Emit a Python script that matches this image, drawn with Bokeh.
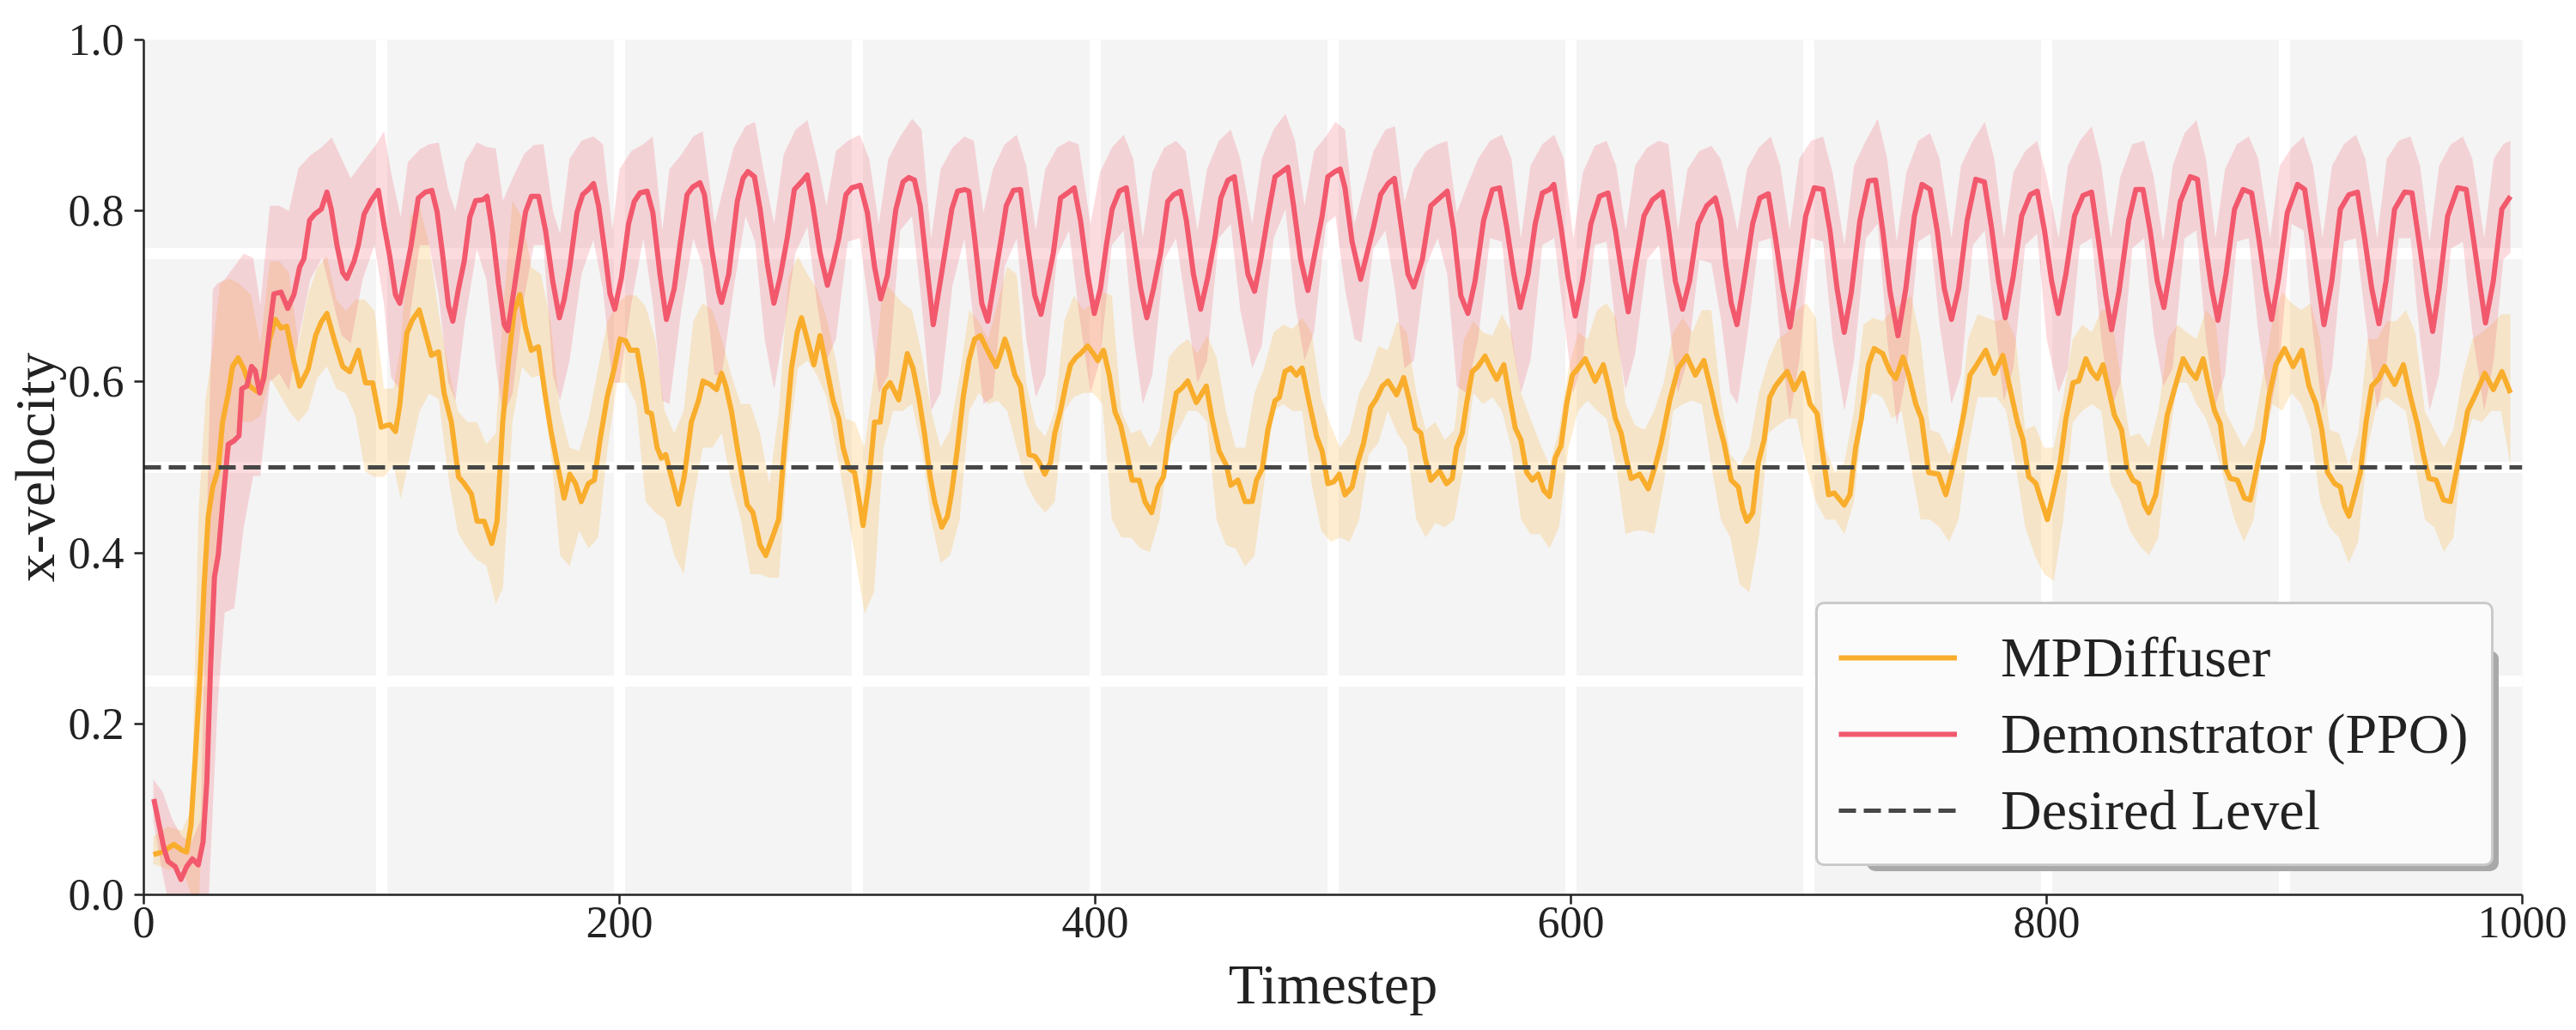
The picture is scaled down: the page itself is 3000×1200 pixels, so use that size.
from bokeh.plotting import figure
from bokeh.models import Range1d, FixedTicker, Legend, LegendItem
from bokeh.core.properties import value
from bokeh.embed import file_html
from bokeh.resources import INLINE

# ---------------- data ----------------
X_RANGE = (0, 1000)
Y_RANGE = (0, 1)
X_TICKS = [0, 200, 400, 600, 800, 1000]
Y_TICKS = [0.0, 0.2, 0.4, 0.6, 0.8, 1.0]
Y_TICK_LABELS = ["0.0", "0.2", "0.4", "0.6", "0.8", "1.0"]
X_GRID = [0, 100, 200, 300, 400, 500, 600, 700, 800, 900, 1000]
Y_GRID = [0, 0.25, 0.5, 0.75, 1.0]
DESIRED_LEVEL = 0.5
LABELS = ["MPDiffuser", "Demonstrator (PPO)", "Desired Level"]

# Demonstrator (PPO) mean: (timestep, x-velocity)
PPO_MEAN = [
    (4.2, 0.112), (8.4, 0.055), (10.2, 0.039), (13.2, 0.033), (15.6, 0.018), (18.0, 0.033),
    (20.4, 0.042), (22.9, 0.035), (24.9, 0.062), (26.5, 0.133), (28.0, 0.262), (29.7, 0.372),
    (31.3, 0.398), (33.1, 0.456), (35.5, 0.527), (37.9, 0.531), (40.0, 0.537), (41.2, 0.592),
    (43.3, 0.595), (45.3, 0.618), (46.9, 0.613), (48.7, 0.587), (50.5, 0.605), (52.9, 0.663),
    (54.7, 0.703), (57.7, 0.705), (60.5, 0.686), (63.1, 0.702), (65.5, 0.734), (67.3, 0.744),
    (69.7, 0.789), (71.8, 0.796), (74.6, 0.802), (77.0, 0.822), (78.8, 0.802), (81.2, 0.760),
    (83.6, 0.728), (85.4, 0.721), (88.4, 0.741), (90.2, 0.760), (92.6, 0.796), (95.6, 0.812),
    (98.6, 0.824), (101.0, 0.783), (103.4, 0.747), (105.8, 0.702), (107.6, 0.692), (110.6, 0.734),
    (112.4, 0.760), (115.4, 0.815), (118.4, 0.822), (121.1, 0.824), (123.3, 0.799), (125.7, 0.747),
    (128.1, 0.689), (129.9, 0.671), (132.3, 0.709), (134.7, 0.741), (137.1, 0.793), (139.5, 0.812),
    (142.5, 0.813), (144.3, 0.817), (146.7, 0.773), (149.1, 0.715), (151.5, 0.667), (153.0, 0.660),
    (155.7, 0.709), (158.1, 0.754), (160.5, 0.799), (162.9, 0.817), (166.0, 0.817), (168.9, 0.777),
    (171.9, 0.718), (174.7, 0.675), (176.7, 0.696), (179.1, 0.735), (182.1, 0.798), (184.5, 0.819),
    (186.9, 0.825), (189.1, 0.832), (191.2, 0.806), (193.9, 0.751), (196.0, 0.703), (198.0, 0.685),
    (200.8, 0.722), (203.8, 0.785), (206.2, 0.811), (208.6, 0.821), (211.6, 0.823), (214.0, 0.798),
    (217.0, 0.726), (219.7, 0.673), (223.0, 0.709), (225.4, 0.760), (228.4, 0.819), (230.8, 0.828),
    (233.8, 0.833), (235.7, 0.819), (238.7, 0.756), (241.7, 0.705), (242.9, 0.693), (245.9, 0.726),
    (249.5, 0.811), (251.9, 0.838), (254.0, 0.846), (256.7, 0.840), (259.1, 0.802), (262.1, 0.739),
    (264.9, 0.692), (267.5, 0.722), (270.5, 0.768), (273.5, 0.825), (276.5, 0.834), (278.9, 0.842),
    (281.3, 0.806), (284.3, 0.751), (287.4, 0.713), (289.8, 0.739), (292.2, 0.768), (295.2, 0.819),
    (297.6, 0.827), (301.2, 0.830), (304.2, 0.798), (307.2, 0.735), (309.8, 0.697), (312.6, 0.724),
    (316.2, 0.802), (319.2, 0.834), (321.6, 0.839), (324.0, 0.836), (326.4, 0.806), (329.4, 0.730),
    (331.9, 0.667), (334.9, 0.718), (337.3, 0.760), (339.7, 0.802), (342.1, 0.823), (345.1, 0.825),
    (346.9, 0.823), (349.3, 0.768), (352.3, 0.692), (354.8, 0.671), (357.8, 0.722), (360.8, 0.773),
    (362.6, 0.806), (365.6, 0.824), (368.6, 0.825), (371.6, 0.760), (374.6, 0.701), (377.2, 0.679),
    (379.4, 0.709), (382.4, 0.751), (385.4, 0.815), (388.4, 0.821), (391.2, 0.827), (393.8, 0.789),
    (396.8, 0.726), (399.6, 0.680), (402.2, 0.709), (404.7, 0.760), (407.1, 0.802), (410.1, 0.823),
    (413.1, 0.827), (416.1, 0.768), (419.1, 0.709), (421.7, 0.675), (424.5, 0.709), (427.5, 0.751),
    (430.5, 0.811), (433.0, 0.819), (435.9, 0.823), (438.3, 0.789), (441.3, 0.726), (444.3, 0.685),
    (447.3, 0.722), (450.3, 0.768), (452.8, 0.815), (455.8, 0.836), (458.5, 0.840), (461.2, 0.785),
    (464.2, 0.726), (467.0, 0.706), (469.6, 0.743), (472.6, 0.794), (475.6, 0.840), (478.6, 0.846),
    (481.0, 0.851), (483.4, 0.806), (486.4, 0.743), (489.4, 0.707), (492.4, 0.751), (495.4, 0.794),
    (497.8, 0.840), (500.8, 0.846), (503.0, 0.849), (505.0, 0.827), (508.0, 0.764), (511.6, 0.720),
    (514.0, 0.747), (517.0, 0.781), (520.0, 0.819), (523.1, 0.832), (525.8, 0.838), (528.5, 0.785),
    (531.5, 0.726), (533.9, 0.711), (537.5, 0.743), (541.1, 0.806), (544.7, 0.815), (548.0, 0.823),
    (550.7, 0.777), (553.7, 0.701), (556.7, 0.680), (559.7, 0.718), (563.3, 0.789), (567.0, 0.825),
    (570.0, 0.827), (573.0, 0.781), (576.0, 0.726), (578.7, 0.687), (582.0, 0.726), (585.0, 0.785),
    (588.0, 0.821), (591.0, 0.825), (592.8, 0.831), (595.8, 0.781), (598.8, 0.722), (601.8, 0.677),
    (604.8, 0.718), (608.4, 0.785), (612.0, 0.817), (615.6, 0.821), (618.7, 0.777), (621.7, 0.722),
    (624.1, 0.682), (627.1, 0.735), (630.7, 0.794), (634.3, 0.813), (638.5, 0.822), (640.9, 0.781),
    (643.9, 0.718), (646.9, 0.685), (649.9, 0.718), (653.5, 0.785), (657.1, 0.806), (660.7, 0.815),
    (663.0, 0.790), (665.0, 0.739), (667.4, 0.692), (669.8, 0.667), (672.8, 0.718), (676.4, 0.785),
    (679.4, 0.815), (683.0, 0.820), (686.0, 0.768), (689.1, 0.709), (692.1, 0.664), (695.1, 0.718),
    (698.7, 0.794), (702.3, 0.827), (705.9, 0.825), (708.9, 0.777), (711.9, 0.709), (714.9, 0.658),
    (717.9, 0.705), (721.5, 0.789), (725.1, 0.835), (728.1, 0.836), (731.1, 0.777), (734.2, 0.705),
    (737.5, 0.654), (740.8, 0.709), (744.4, 0.794), (747.6, 0.831), (751.0, 0.825), (754.0, 0.777),
    (757.0, 0.709), (760.0, 0.673), (763.0, 0.709), (766.6, 0.789), (770.2, 0.837), (773.8, 0.834),
    (776.8, 0.781), (779.8, 0.718), (782.6, 0.675), (785.9, 0.722), (789.5, 0.794), (793.1, 0.819),
    (796.1, 0.823), (799.1, 0.777), (802.1, 0.718), (804.9, 0.680), (808.1, 0.726), (811.7, 0.794),
    (815.3, 0.818), (818.9, 0.822), (821.9, 0.764), (824.9, 0.701), (827.3, 0.661), (830.4, 0.705),
    (834.5, 0.789), (837.5, 0.825), (840.5, 0.825), (843.5, 0.777), (846.5, 0.718), (849.3, 0.687),
    (852.5, 0.743), (856.2, 0.811), (860.4, 0.840), (863.4, 0.837), (866.4, 0.768), (869.4, 0.709),
    (872.0, 0.672), (875.4, 0.726), (879.0, 0.802), (882.6, 0.825), (886.2, 0.821), (889.2, 0.768),
    (892.2, 0.709), (894.6, 0.673), (897.6, 0.722), (901.2, 0.798), (905.5, 0.831), (908.5, 0.825),
    (911.5, 0.768), (914.5, 0.709), (916.6, 0.667), (919.9, 0.718), (923.5, 0.802), (927.1, 0.819),
    (930.7, 0.822), (933.7, 0.768), (936.7, 0.709), (939.7, 0.668), (942.7, 0.718), (946.3, 0.802),
    (950.5, 0.822), (953.6, 0.821), (956.6, 0.764), (959.6, 0.705), (962.3, 0.659), (965.0, 0.709),
    (968.6, 0.794), (972.8, 0.827), (976.4, 0.825), (979.4, 0.768), (982.4, 0.709), (984.5, 0.669),
    (987.8, 0.718), (991.4, 0.802), (995.0, 0.817),
]

# MPDiffuser mean: (timestep, x-velocity)
MPD_MEAN = [
    (4.0, 0.047), (7.8, 0.050), (12.6, 0.059), (16.2, 0.052), (18.0, 0.050), (19.8, 0.081),
    (21.6, 0.159), (23.5, 0.249), (25.3, 0.359), (27.1, 0.443), (28.9, 0.476), (31.3, 0.498),
    (33.1, 0.553), (35.5, 0.586), (37.3, 0.618), (39.7, 0.628), (42.1, 0.615), (44.5, 0.595),
    (47.5, 0.589), (49.9, 0.599), (52.9, 0.650), (55.3, 0.673), (57.7, 0.663), (60.1, 0.665),
    (63.1, 0.624), (65.5, 0.595), (69.1, 0.615), (72.2, 0.654), (74.6, 0.670), (77.0, 0.680),
    (80.0, 0.650), (83.6, 0.618), (86.6, 0.612), (90.2, 0.637), (93.2, 0.599), (96.2, 0.599),
    (99.8, 0.547), (103.4, 0.550), (105.8, 0.542), (107.6, 0.573), (110.6, 0.657), (113.0, 0.673),
    (115.8, 0.684), (118.4, 0.657), (120.9, 0.631), (123.9, 0.635), (126.3, 0.586), (129.3, 0.553),
    (132.3, 0.489), (134.7, 0.481), (137.7, 0.469), (140.1, 0.437), (143.1, 0.437), (146.3, 0.411),
    (148.5, 0.437), (150.9, 0.553), (153.3, 0.624), (155.7, 0.683), (158.1, 0.702), (160.5, 0.663),
    (162.9, 0.637), (165.9, 0.641), (168.9, 0.582), (171.3, 0.540), (173.7, 0.506), (176.7, 0.464),
    (179.1, 0.492), (181.5, 0.481), (183.9, 0.460), (186.9, 0.481), (189.4, 0.485), (191.8, 0.532),
    (194.8, 0.582), (197.8, 0.616), (200.2, 0.650), (202.6, 0.648), (204.4, 0.637), (207.4, 0.637),
    (209.8, 0.599), (211.6, 0.565), (213.4, 0.563), (215.8, 0.523), (217.6, 0.511), (219.4, 0.515),
    (221.8, 0.489), (224.8, 0.457), (227.2, 0.489), (230.2, 0.553), (233.2, 0.578), (235.1, 0.601),
    (238.1, 0.597), (240.8, 0.591), (242.9, 0.610), (244.7, 0.595), (247.1, 0.565), (249.5, 0.523),
    (251.3, 0.494), (253.7, 0.456), (256.1, 0.447), (259.1, 0.409), (261.5, 0.397), (264.5, 0.420),
    (266.9, 0.439), (269.3, 0.523), (272.3, 0.616), (274.7, 0.658), (276.5, 0.675), (278.9, 0.650),
    (281.7, 0.620), (284.3, 0.654), (286.8, 0.620), (289.8, 0.578), (292.2, 0.557), (294.0, 0.523),
    (296.4, 0.499), (298.8, 0.494), (300.6, 0.464), (302.4, 0.432), (304.8, 0.481), (307.2, 0.553),
    (309.6, 0.553), (311.4, 0.591), (313.8, 0.599), (317.4, 0.579), (321.0, 0.633), (323.4, 0.616),
    (325.8, 0.582), (328.2, 0.540), (330.6, 0.489), (332.5, 0.460), (335.5, 0.430), (337.9, 0.443),
    (339.7, 0.472), (342.1, 0.523), (344.5, 0.582), (346.9, 0.625), (349.3, 0.650), (351.7, 0.654),
    (355.4, 0.633), (358.4, 0.618), (360.2, 0.633), (362.0, 0.650), (363.8, 0.635), (366.2, 0.608),
    (368.6, 0.595), (370.4, 0.557), (372.2, 0.515), (374.6, 0.513), (376.4, 0.506), (378.8, 0.492),
    (381.2, 0.506), (383.0, 0.540), (385.4, 0.566), (387.8, 0.599), (389.6, 0.620), (392.0, 0.629),
    (393.8, 0.633), (396.8, 0.642), (399.2, 0.633), (401.1, 0.625), (403.5, 0.637), (405.9, 0.608),
    (408.3, 0.565), (410.7, 0.549), (413.1, 0.519), (415.5, 0.485), (418.5, 0.485), (420.9, 0.460),
    (423.7, 0.447), (426.3, 0.477), (428.7, 0.489), (431.1, 0.540), (434.1, 0.587), (436.5, 0.593),
    (438.9, 0.601), (442.5, 0.576), (446.7, 0.595), (449.1, 0.557), (452.1, 0.519), (455.2, 0.502),
    (457.0, 0.479), (460.0, 0.485), (463.0, 0.460), (466.0, 0.460), (467.8, 0.485), (470.2, 0.498),
    (472.6, 0.544), (475.6, 0.578), (477.4, 0.582), (479.8, 0.612), (482.2, 0.616), (484.6, 0.608),
    (487.0, 0.616), (490.1, 0.574), (493.1, 0.536), (495.4, 0.519), (497.8, 0.481), (500.2, 0.483),
    (502.6, 0.492), (505.0, 0.468), (508.0, 0.477), (510.4, 0.506), (512.8, 0.528), (515.8, 0.570),
    (518.2, 0.580), (520.7, 0.595), (523.1, 0.601), (526.7, 0.585), (529.7, 0.605), (532.1, 0.578),
    (534.5, 0.546), (536.9, 0.540), (538.7, 0.511), (541.1, 0.485), (544.7, 0.496), (547.7, 0.481),
    (550.1, 0.487), (551.9, 0.523), (554.3, 0.540), (556.1, 0.574), (558.5, 0.612), (560.9, 0.618),
    (563.9, 0.630), (566.3, 0.616), (568.8, 0.603), (571.8, 0.620), (574.2, 0.582), (576.6, 0.546),
    (579.0, 0.532), (581.4, 0.494), (583.8, 0.485), (586.2, 0.492), (588.6, 0.473), (591.0, 0.466),
    (593.4, 0.511), (595.8, 0.525), (598.2, 0.574), (600.6, 0.608), (603.0, 0.616), (606.0, 0.627),
    (610.2, 0.601), (613.6, 0.620), (616.2, 0.591), (618.7, 0.557), (621.1, 0.540), (622.9, 0.515),
    (625.3, 0.487), (628.9, 0.492), (632.5, 0.475), (635.5, 0.502), (637.9, 0.528), (641.5, 0.578),
    (645.1, 0.616), (648.7, 0.630), (652.3, 0.608), (655.9, 0.625), (658.9, 0.591), (661.3, 0.561),
    (664.4, 0.528), (667.4, 0.485), (670.4, 0.477), (672.2, 0.451), (674.0, 0.437), (676.4, 0.447),
    (678.8, 0.506), (681.2, 0.532), (683.6, 0.582), (686.0, 0.595), (688.5, 0.604), (690.9, 0.612),
    (693.9, 0.591), (697.5, 0.610), (700.5, 0.574), (703.5, 0.563), (705.9, 0.515), (708.3, 0.468),
    (710.7, 0.470), (714.9, 0.456), (717.3, 0.468), (719.7, 0.523), (722.1, 0.557), (725.1, 0.620),
    (727.5, 0.639), (731.1, 0.633), (734.2, 0.612), (736.6, 0.604), (739.6, 0.629), (742.0, 0.608),
    (745.0, 0.574), (747.4, 0.557), (750.4, 0.494), (754.6, 0.492), (757.6, 0.468), (760.0, 0.494),
    (762.4, 0.523), (765.4, 0.566), (767.8, 0.608), (770.2, 0.618), (774.4, 0.637), (778.0, 0.610),
    (781.6, 0.631), (784.7, 0.591), (787.7, 0.553), (790.1, 0.532), (792.5, 0.489), (795.5, 0.481),
    (797.9, 0.460), (800.3, 0.439), (802.7, 0.468), (805.7, 0.506), (808.1, 0.557), (811.1, 0.599),
    (813.5, 0.601), (816.5, 0.627), (818.9, 0.612), (821.3, 0.604), (823.7, 0.620), (826.1, 0.591),
    (828.5, 0.561), (831.5, 0.544), (833.9, 0.498), (836.3, 0.485), (838.7, 0.481), (841.1, 0.456),
    (842.9, 0.447), (845.9, 0.468), (848.3, 0.515), (850.7, 0.561), (853.7, 0.591), (857.4, 0.627),
    (860.4, 0.612), (862.8, 0.604), (865.8, 0.627), (868.2, 0.595), (870.6, 0.566), (873.0, 0.551),
    (875.4, 0.498), (877.2, 0.487), (880.2, 0.485), (883.2, 0.464), (885.6, 0.462), (888.6, 0.502),
    (891.0, 0.532), (893.4, 0.582), (896.4, 0.620), (900.0, 0.639), (903.6, 0.618), (907.3, 0.637),
    (910.3, 0.595), (913.3, 0.574), (915.7, 0.544), (918.1, 0.494), (921.1, 0.481), (923.5, 0.477),
    (925.3, 0.454), (927.1, 0.443), (929.5, 0.468), (931.9, 0.494), (934.3, 0.553), (936.7, 0.595),
    (939.7, 0.604), (942.1, 0.618), (946.3, 0.597), (950.0, 0.620), (953.0, 0.582), (956.0, 0.549),
    (958.4, 0.515), (960.8, 0.487), (963.8, 0.485), (966.8, 0.462), (969.8, 0.460), (972.2, 0.494),
    (974.6, 0.528), (977.0, 0.566), (980.6, 0.587), (984.2, 0.610), (987.8, 0.591), (991.4, 0.612),
    (995.0, 0.587),
]

# Demonstrator (PPO) spread: (timestep, upper, lower)
PPO_BAND = [
    (4, 0.135, 0.085), (8, 0.120, 0.023), (12, 0.088, -0.03), (16, 0.068, -0.03), (20, 0.062, -0.03),
    (24, 0.088, -0.05), (27, 0.50, -0.02), (29, 0.708, 0.10), (31, 0.715, 0.22), (34, 0.720, 0.33),
    (38, 0.735, 0.335), (42, 0.750, 0.43), (46, 0.745, 0.49), (49, 0.690, 0.49), (53, 0.806, 0.60),
    (57, 0.806, 0.61), (61, 0.800, 0.59), (65, 0.850, 0.65), (70, 0.865, 0.72), (75, 0.875, 0.745),
    (79, 0.886, 0.70), (83, 0.862, 0.655), (87, 0.838, 0.645), (92, 0.857, 0.72), (97, 0.875, 0.76),
    (101, 0.893, 0.69), (104, 0.844, 0.605), (108, 0.793, 0.59), (111, 0.857, 0.66), (116, 0.872, 0.76),
    (120, 0.878, 0.76), (124, 0.880, 0.70), (128, 0.825, 0.60), (131, 0.800, 0.578), (135, 0.857, 0.67),
    (140, 0.880, 0.755), (144, 0.875, 0.72), (148, 0.873, 0.62), (151, 0.812, 0.56), (155, 0.838, 0.586),
    (160, 0.867, 0.70), (164, 0.877, 0.76), (168, 0.878, 0.760), (172, 0.800, 0.608), (175, 0.773, 0.578),
    (179, 0.861, 0.625), (184, 0.882, 0.726), (189, 0.887, 0.766), (193, 0.878, 0.709), (197, 0.777, 0.599),
    (200, 0.849, 0.599), (205, 0.870, 0.692), (210, 0.878, 0.768), (214, 0.887, 0.692), (218, 0.777, 0.578),
    (221, 0.849, 0.574), (226, 0.866, 0.684), (231, 0.887, 0.768), (235, 0.893, 0.735), (240, 0.785, 0.608),
    (243, 0.819, 0.608), (248, 0.874, 0.709), (253, 0.899, 0.794), (257, 0.904, 0.764), (261, 0.840, 0.650),
    (265, 0.785, 0.591), (269, 0.866, 0.658), (274, 0.895, 0.751), (279, 0.906, 0.781), (283, 0.861, 0.692),
    (287, 0.806, 0.625), (291, 0.870, 0.650), (296, 0.882, 0.764), (301, 0.889, 0.768), (305, 0.861, 0.684),
    (309, 0.785, 0.587), (313, 0.861, 0.608), (318, 0.887, 0.777), (323, 0.908, 0.794), (327, 0.895, 0.692),
    (331, 0.768, 0.566), (335, 0.849, 0.587), (340, 0.874, 0.713), (345, 0.887, 0.768), (349, 0.882, 0.667),
    (353, 0.798, 0.574), (357, 0.849, 0.582), (362, 0.878, 0.735), (367, 0.889, 0.768), (371, 0.853, 0.650),
    (375, 0.777, 0.582), (379, 0.849, 0.608), (384, 0.874, 0.747), (389, 0.882, 0.777), (393, 0.878, 0.684),
    (398, 0.785, 0.587), (402, 0.845, 0.625), (407, 0.874, 0.760), (412, 0.889, 0.777), (416, 0.861, 0.654),
    (420, 0.768, 0.574), (424, 0.845, 0.608), (429, 0.874, 0.743), (434, 0.882, 0.768), (438, 0.870, 0.692),
    (443, 0.777, 0.599), (447, 0.849, 0.625), (452, 0.882, 0.768), (457, 0.895, 0.785), (461, 0.861, 0.684),
    (466, 0.785, 0.616), (470, 0.861, 0.642), (475, 0.895, 0.768), (480, 0.914, 0.802), (484, 0.882, 0.692),
    (488, 0.806, 0.625), (492, 0.870, 0.658), (497, 0.887, 0.785), (501, 0.904, 0.794), (505, 0.895, 0.709),
    (509, 0.785, 0.650), (512, 0.819, 0.646), (517, 0.870, 0.756), (522, 0.895, 0.777), (526, 0.899, 0.709),
    (530, 0.811, 0.616), (534, 0.849, 0.625), (539, 0.870, 0.735), (544, 0.878, 0.768), (548, 0.882, 0.726),
    (552, 0.798, 0.595), (556, 0.827, 0.587), (561, 0.861, 0.650), (566, 0.882, 0.768), (571, 0.889, 0.764),
    (575, 0.861, 0.650), (579, 0.768, 0.587), (583, 0.853, 0.625), (588, 0.878, 0.760), (593, 0.889, 0.768),
    (597, 0.861, 0.675), (601, 0.768, 0.587), (605, 0.845, 0.625), (610, 0.876, 0.760), (615, 0.882, 0.764),
    (619, 0.853, 0.658), (623, 0.777, 0.591), (627, 0.853, 0.633), (632, 0.874, 0.743), (637, 0.882, 0.760),
    (641, 0.878, 0.675), (645, 0.777, 0.587), (649, 0.849, 0.625), (654, 0.870, 0.743), (659, 0.876, 0.739),
    (663, 0.861, 0.675), (667, 0.819, 0.587), (670, 0.777, 0.574), (674, 0.849, 0.650), (679, 0.874, 0.764),
    (684, 0.887, 0.768), (688, 0.853, 0.650), (692, 0.777, 0.557), (696, 0.861, 0.625), (701, 0.882, 0.768),
    (706, 0.887, 0.764), (710, 0.845, 0.650), (715, 0.760, 0.566), (719, 0.853, 0.625), (724, 0.882, 0.768),
    (729, 0.908, 0.785), (733, 0.861, 0.650), (737, 0.764, 0.549), (741, 0.845, 0.608), (746, 0.882, 0.764),
    (751, 0.891, 0.773), (755, 0.861, 0.667), (760, 0.768, 0.574), (764, 0.853, 0.608), (769, 0.882, 0.760),
    (774, 0.904, 0.777), (778, 0.861, 0.675), (782, 0.768, 0.578), (786, 0.845, 0.616), (791, 0.870, 0.760),
    (796, 0.882, 0.773), (800, 0.840, 0.650), (805, 0.768, 0.587), (809, 0.853, 0.616), (814, 0.882, 0.760),
    (819, 0.899, 0.768), (823, 0.853, 0.650), (827, 0.768, 0.566), (831, 0.840, 0.599), (836, 0.878, 0.756),
    (841, 0.882, 0.768), (845, 0.840, 0.658), (849, 0.764, 0.595), (853, 0.853, 0.616), (858, 0.891, 0.768),
    (863, 0.906, 0.777), (867, 0.861, 0.650), (871, 0.768, 0.574), (875, 0.849, 0.608), (880, 0.878, 0.764),
    (885, 0.887, 0.768), (889, 0.861, 0.658), (894, 0.768, 0.566), (898, 0.853, 0.625), (903, 0.874, 0.785),
    (908, 0.887, 0.777), (912, 0.853, 0.658), (916, 0.768, 0.566), (920, 0.853, 0.616), (925, 0.878, 0.764),
    (930, 0.889, 0.768), (934, 0.861, 0.675), (939, 0.768, 0.566), (943, 0.861, 0.625), (948, 0.882, 0.768),
    (953, 0.887, 0.768), (957, 0.853, 0.650), (961, 0.764, 0.566), (965, 0.853, 0.608), (970, 0.878, 0.756),
    (975, 0.887, 0.764), (979, 0.861, 0.658), (984, 0.768, 0.566), (988, 0.861, 0.625), (992, 0.878, 0.743),
    (995, 0.882, 0.751),
]

# MPDiffuser spread: (timestep, upper, lower)
MPD_BAND = [
    (4, 0.068, 0.036), (10, 0.080, 0.030), (16, 0.075, 0.030), (20, 0.100, 0.000), (23, 0.450, -0.02),
    (26, 0.580, 0.18), (29, 0.640, 0.36), (32, 0.715, 0.456), (36, 0.721, 0.515), (40, 0.715, 0.553),
    (45, 0.702, 0.553), (49, 0.644, 0.560), (53, 0.741, 0.605), (57, 0.741, 0.586), (61, 0.728, 0.566),
    (65, 0.644, 0.553), (69, 0.702, 0.566), (73, 0.734, 0.605), (77, 0.747, 0.618), (81, 0.696, 0.592),
    (85, 0.683, 0.586), (89, 0.696, 0.560), (93, 0.696, 0.495), (97, 0.683, 0.489), (101, 0.592, 0.489),
    (105, 0.592, 0.502), (108, 0.644, 0.463), (112, 0.793, 0.515), (116, 0.806, 0.566), (120, 0.760, 0.586),
    (124, 0.680, 0.580), (128, 0.618, 0.489), (132, 0.566, 0.424), (136, 0.553, 0.405), (140, 0.553, 0.392),
    (144, 0.527, 0.385), (148, 0.540, 0.340), (151, 0.683, 0.359), (155, 0.812, 0.553), (159, 0.793, 0.618),
    (163, 0.734, 0.605), (167, 0.726, 0.608), (171, 0.671, 0.523), (175, 0.566, 0.397), (179, 0.523, 0.384),
    (183, 0.519, 0.426), (187, 0.557, 0.405), (191, 0.616, 0.418), (195, 0.671, 0.523), (199, 0.692, 0.599),
    (203, 0.701, 0.599), (207, 0.701, 0.574), (211, 0.688, 0.460), (215, 0.650, 0.447), (219, 0.566, 0.439),
    (223, 0.540, 0.397), (227, 0.566, 0.375), (231, 0.671, 0.460), (235, 0.692, 0.523), (239, 0.684, 0.523),
    (243, 0.650, 0.540), (247, 0.608, 0.481), (251, 0.574, 0.439), (255, 0.574, 0.375), (259, 0.540, 0.375),
    (263, 0.481, 0.371), (267, 0.566, 0.371), (271, 0.722, 0.523), (275, 0.747, 0.616), (279, 0.726, 0.625),
    (283, 0.709, 0.608), (287, 0.675, 0.582), (291, 0.625, 0.523), (295, 0.557, 0.460), (299, 0.553, 0.397),
    (303, 0.523, 0.329), (307, 0.608, 0.354), (311, 0.718, 0.523), (315, 0.705, 0.566), (319, 0.692, 0.566),
    (323, 0.684, 0.574), (327, 0.633, 0.523), (331, 0.566, 0.439), (335, 0.523, 0.388), (339, 0.544, 0.397),
    (343, 0.608, 0.439), (347, 0.684, 0.566), (351, 0.671, 0.587), (355, 0.650, 0.574), (359, 0.692, 0.578),
    (363, 0.735, 0.566), (367, 0.726, 0.523), (371, 0.599, 0.481), (375, 0.549, 0.460), (379, 0.536, 0.447),
    (383, 0.566, 0.460), (387, 0.671, 0.566), (391, 0.701, 0.582), (395, 0.684, 0.587), (399, 0.692, 0.587),
    (403, 0.705, 0.574), (407, 0.701, 0.439), (411, 0.566, 0.418), (415, 0.540, 0.418), (419, 0.544, 0.405),
    (423, 0.523, 0.401), (427, 0.544, 0.439), (431, 0.629, 0.523), (435, 0.642, 0.544), (439, 0.650, 0.566),
    (443, 0.633, 0.566), (447, 0.654, 0.553), (451, 0.629, 0.439), (455, 0.566, 0.409), (459, 0.523, 0.405),
    (463, 0.523, 0.384), (467, 0.587, 0.397), (471, 0.616, 0.481), (475, 0.658, 0.566), (479, 0.667, 0.574),
    (483, 0.662, 0.566), (487, 0.675, 0.566), (491, 0.658, 0.481), (495, 0.582, 0.426), (499, 0.549, 0.413),
    (503, 0.523, 0.418), (507, 0.540, 0.413), (511, 0.587, 0.439), (515, 0.608, 0.515), (519, 0.642, 0.528),
    (523, 0.637, 0.566), (527, 0.671, 0.540), (531, 0.658, 0.523), (535, 0.587, 0.439), (539, 0.544, 0.418),
    (543, 0.553, 0.435), (547, 0.532, 0.430), (551, 0.544, 0.439), (555, 0.650, 0.502), (559, 0.671, 0.587),
    (563, 0.658, 0.574), (567, 0.654, 0.582), (571, 0.679, 0.566), (575, 0.658, 0.523), (579, 0.587, 0.439),
    (583, 0.557, 0.422), (587, 0.528, 0.422), (591, 0.502, 0.405), (595, 0.544, 0.430), (599, 0.616, 0.523),
    (603, 0.658, 0.566), (607, 0.650, 0.578), (611, 0.684, 0.566), (615, 0.692, 0.557), (619, 0.675, 0.502),
    (623, 0.574, 0.422), (627, 0.549, 0.426), (631, 0.544, 0.426), (635, 0.566, 0.422), (639, 0.599, 0.481),
    (643, 0.658, 0.566), (647, 0.675, 0.574), (651, 0.658, 0.578), (655, 0.684, 0.574), (659, 0.684, 0.502),
    (663, 0.582, 0.439), (667, 0.515, 0.418), (671, 0.502, 0.363), (675, 0.523, 0.354), (679, 0.587, 0.418),
    (683, 0.625, 0.540), (687, 0.650, 0.549), (691, 0.658, 0.557), (695, 0.684, 0.557), (699, 0.692, 0.502),
    (703, 0.675, 0.460), (707, 0.523, 0.439), (711, 0.494, 0.439), (715, 0.506, 0.422), (719, 0.566, 0.460),
    (723, 0.667, 0.566), (727, 0.675, 0.587), (731, 0.671, 0.582), (735, 0.684, 0.557), (739, 0.692, 0.566),
    (743, 0.701, 0.502), (747, 0.650, 0.439), (751, 0.544, 0.439), (755, 0.540, 0.430), (759, 0.515, 0.413),
    (763, 0.540, 0.439), (767, 0.650, 0.523), (771, 0.679, 0.582), (775, 0.675, 0.582), (779, 0.671, 0.582),
    (783, 0.675, 0.566), (787, 0.650, 0.502), (791, 0.544, 0.430), (795, 0.549, 0.397), (799, 0.523, 0.375),
    (803, 0.523, 0.367), (807, 0.582, 0.439), (811, 0.650, 0.553), (815, 0.667, 0.566), (819, 0.658, 0.574),
    (823, 0.684, 0.566), (827, 0.684, 0.481), (831, 0.608, 0.460), (835, 0.536, 0.426), (839, 0.540, 0.409),
    (843, 0.523, 0.397), (847, 0.566, 0.418), (851, 0.650, 0.523), (855, 0.667, 0.599), (859, 0.658, 0.599),
    (863, 0.650, 0.574), (867, 0.684, 0.557), (871, 0.671, 0.523), (875, 0.566, 0.481), (879, 0.544, 0.439),
    (883, 0.523, 0.413), (887, 0.544, 0.439), (891, 0.608, 0.523), (895, 0.671, 0.574), (899, 0.705, 0.566),
    (903, 0.692, 0.587), (907, 0.684, 0.574), (911, 0.692, 0.544), (915, 0.650, 0.460), (919, 0.544, 0.430),
    (923, 0.540, 0.418), (927, 0.502, 0.388), (931, 0.540, 0.413), (935, 0.650, 0.523), (939, 0.650, 0.574),
    (943, 0.671, 0.582), (947, 0.671, 0.574), (951, 0.684, 0.566), (955, 0.658, 0.502), (959, 0.566, 0.439),
    (963, 0.544, 0.430), (967, 0.523, 0.401), (971, 0.544, 0.418), (975, 0.608, 0.523), (979, 0.650, 0.557),
    (983, 0.658, 0.553), (987, 0.667, 0.566), (991, 0.679, 0.566), (995, 0.679, 0.502),
]

# ---------------- styling ----------------
ORANGE = "#F9AD2C"
RED = "#F2596D"
DASH_COLOR = "#474747"
BG = "#F4F4F4"
TEXT = "#222222"
FONT = "Liberation Serif"


def cols(rows):
    return [list(c) for c in zip(*rows)]


ppo_t, ppo_v = cols(PPO_MEAN)
mpd_t, mpd_v = cols(MPD_MEAN)
ppo_bt, ppo_hi, ppo_lo = cols(PPO_BAND)
mpd_bt, mpd_hi, mpd_lo = cols(MPD_BAND)

p = figure(
    width=3000, height=1200,
    x_range=Range1d(*X_RANGE), y_range=Range1d(*Y_RANGE),
    output_backend="svg", toolbar_location=None,
    min_border_left=165, min_border_right=63, min_border_top=46, min_border_bottom=158,
)
p.background_fill_color = BG
p.border_fill_color = "white"
p.outline_line_color = None

# grid
p.xgrid.ticker = FixedTicker(ticks=X_GRID)
p.ygrid.ticker = FixedTicker(ticks=Y_GRID)
for g in (p.xgrid, p.ygrid):
    g.grid_line_color = "white"
    g.grid_line_width = 13

# axes
p.xaxis.ticker = FixedTicker(ticks=X_TICKS)
p.yaxis.ticker = FixedTicker(ticks=Y_TICKS)
p.yaxis.major_label_overrides = {t: l for t, l in zip(Y_TICKS, Y_TICK_LABELS)}
p.xaxis.axis_label = "Timestep"
p.yaxis.axis_label = "x-velocity"
for ax in (p.xaxis, p.yaxis):
    ax.axis_line_color = TEXT
    ax.axis_line_width = 2.5
    ax.major_tick_line_color = TEXT
    ax.major_tick_line_width = 2.5
    ax.major_tick_out = 11
    ax.major_tick_in = 0
    ax.minor_tick_line_color = None
    ax.major_label_text_font = FONT
    ax.major_label_text_font_size = "52px"
    ax.major_label_text_color = TEXT
    ax.axis_label_text_font = FONT
    ax.axis_label_text_font_size = "66px"
    ax.axis_label_text_font_style = "normal"
    ax.axis_label_text_color = TEXT
p.xaxis.major_label_standoff = 3
p.yaxis.major_label_standoff = 12
p.xaxis.axis_label_standoff = 15
p.yaxis.axis_label_standoff = 0

# bands
p.varea(x=mpd_bt, y1=mpd_lo, y2=mpd_hi, fill_color=ORANGE, fill_alpha=0.22)
p.varea(x=ppo_bt, y1=ppo_lo, y2=ppo_hi, fill_color=RED, fill_alpha=0.22)

# mean lines
r_mpd = p.line(mpd_t, mpd_v, line_color=ORANGE, line_width=6, line_join="round")
r_ppo = p.line(ppo_t, ppo_v, line_color=RED, line_width=6, line_join="round")

# desired level
r_des = p.line(list(X_RANGE), [DESIRED_LEVEL, DESIRED_LEVEL], line_color=DASH_COLOR,
               line_width=5, line_dash="20 9")

# legend shadow: same box geometry, no text, no visible glyphs
d1 = p.line([], [], line_alpha=0)
d2 = p.line([], [], line_alpha=0)
d3 = p.line([], [], line_alpha=0)

shadow = Legend(
    items=[LegendItem(label=value(""), renderers=[d1]),
           LegendItem(label=value(""), renderers=[d2]),
           LegendItem(label=value(""), renderers=[d3])],
    location="bottom_right", margin=27,
    glyph_width=138, glyph_height=77, label_standoff=51, padding=24, spacing=13,
    label_width=547, label_height=77,
    label_text_font_size="1px", border_line_color=None,
    background_fill_color="#A9A9A9", background_fill_alpha=1.0,
)
legend = Legend(
    items=[LegendItem(label=LABELS[0], renderers=[r_mpd]),
           LegendItem(label=LABELS[1], renderers=[r_ppo]),
           LegendItem(label=LABELS[2], renderers=[r_des])],
    location="bottom_right", margin=33,
    glyph_width=138, glyph_height=40, label_standoff=51, padding=24, spacing=13,
    label_width=547, label_height=76,
    label_text_font=FONT, label_text_font_size="66px", label_text_color=TEXT,
    border_line_color="#9A9A9A", border_line_width=3,
    background_fill_color="#FBFBFB", background_fill_alpha=1.0,
)
if "border_radius" in Legend.properties():
    shadow.border_radius = 10
    legend.border_radius = 10
p.add_layout(shadow)
p.add_layout(legend)

open("out.html", "w").write(file_html(p, INLINE))
